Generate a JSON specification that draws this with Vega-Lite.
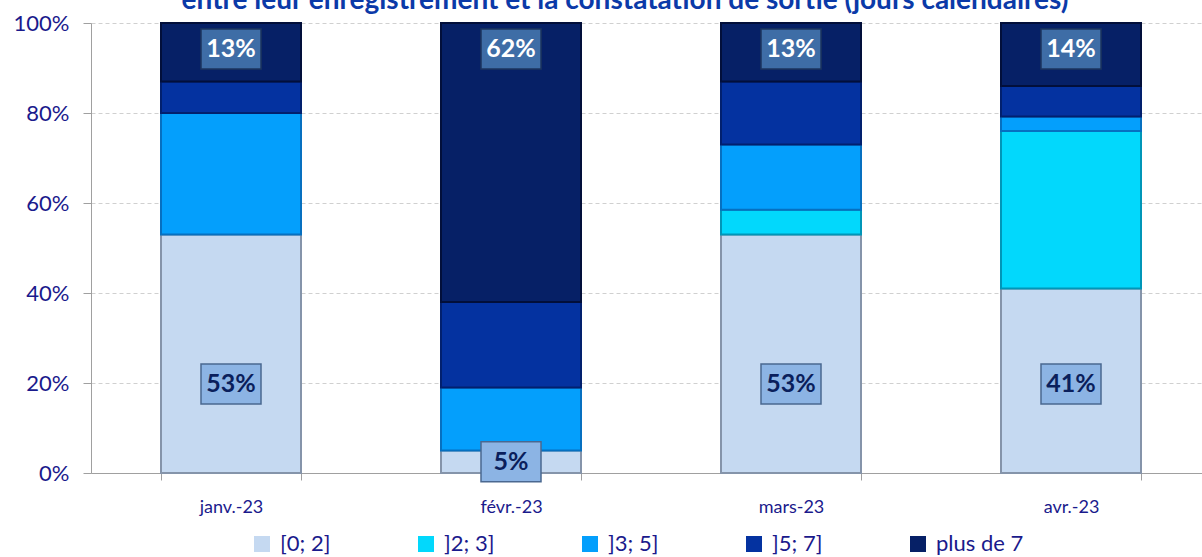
{
  "$schema": "https://vega.github.io/schema/vega-lite/v6.json",
  "autosize": "none",
  "width": 1120,
  "height": 450,
  "padding": {"left": 91, "top": 23, "right": 0, "bottom": 84},
  "background": "white",
  "config": {"view": {"stroke": null}, "font": "Lato"},
  "title": {
    "text": "entre leur enregistrement et la constatation de sortie (jours calendaires)",
    "fontSize": 28, "fontWeight": "bold", "color": "#0b3aa8",
    "anchor": "middle", "dx": -26, "offset": -3
  },
  "data": {"values": [
    {"mois": "janv.-23", "seg": "[0; 2]", "v": 0.53},
    {"mois": "janv.-23", "seg": "]2; 3]", "v": 0.0},
    {"mois": "janv.-23", "seg": "]3; 5]", "v": 0.27},
    {"mois": "janv.-23", "seg": "]5; 7]", "v": 0.07},
    {"mois": "janv.-23", "seg": "plus de 7", "v": 0.13},
    {"mois": "févr.-23", "seg": "[0; 2]", "v": 0.05},
    {"mois": "févr.-23", "seg": "]2; 3]", "v": 0.0},
    {"mois": "févr.-23", "seg": "]3; 5]", "v": 0.14},
    {"mois": "févr.-23", "seg": "]5; 7]", "v": 0.19},
    {"mois": "févr.-23", "seg": "plus de 7", "v": 0.62},
    {"mois": "mars-23", "seg": "[0; 2]", "v": 0.53},
    {"mois": "mars-23", "seg": "]2; 3]", "v": 0.055},
    {"mois": "mars-23", "seg": "]3; 5]", "v": 0.145},
    {"mois": "mars-23", "seg": "]5; 7]", "v": 0.14},
    {"mois": "mars-23", "seg": "plus de 7", "v": 0.13},
    {"mois": "avr.-23", "seg": "[0; 2]", "v": 0.41},
    {"mois": "avr.-23", "seg": "]2; 3]", "v": 0.35},
    {"mois": "avr.-23", "seg": "]3; 5]", "v": 0.032},
    {"mois": "avr.-23", "seg": "]5; 7]", "v": 0.068},
    {"mois": "avr.-23", "seg": "plus de 7", "v": 0.14}
  ]},
  "encoding": {
    "x": {
      "field": "mois", "type": "nominal",
      "sort": ["janv.-23", "févr.-23", "mars-23", "avr.-23"],
      "scale": {"paddingInner": 0.5, "paddingOuter": 0.25},
      "axis": {
        "title": null, "labelAngle": 0, "labelFontSize": 18, "labelColor": "#1a1a8c",
        "labelPadding": 18, "tickBand": "extent", "tickSize": 7, "tickColor": "#a0a0a0",
        "domainColor": "#a0a0a0", "grid": false
      }
    }
  },
  "layer": [
    {
      "transform": [{"filter": "datum.v > 0"}],
      "mark": {"type": "bar", "strokeWidth": 2},
      "encoding": {
        "y": {
          "field": "v", "type": "quantitative", "stack": "zero",
          "scale": {"domain": [0, 1]},
          "axis": {
            "title": null, "format": ".0%", "values": [0, 0.2, 0.4, 0.6, 0.8, 1],
            "labelFontSize": 22, "labelColor": "#1a1a8c", "labelPadding": 14,
            "tickSize": 8, "tickColor": "#a0a0a0", "domainColor": "#a0a0a0",
            "gridColor": "#d0d0d0", "gridDash": [4, 3]
          }
        },
        "order": {"field": "seg", "sort": "ascending"},
        "color": {
          "field": "seg", "type": "nominal",
          "sort": ["[0; 2]", "]2; 3]", "]3; 5]", "]5; 7]", "plus de 7"],
          "scale": {
            "domain": ["[0; 2]", "]2; 3]", "]3; 5]", "]5; 7]", "plus de 7"],
            "range": ["#c5d9f1", "#02d8fc", "#049ffc", "#0432a0", "#062066"]
          },
          "legend": {
            "title": null, "orient": "none", "direction": "horizontal",
            "legendX": 160, "legendY": 510, "columns": 5, "gridAlign": "all",
            "columnPadding": 47, "symbolType": "square", "symbolSize": 256,
            "symbolStrokeWidth": 0, "labelFontSize": 22, "labelColor": "#1a1a8c",
            "symbolOffset": 0, "labelOffset": 7
          }
        },
        "stroke": {
          "field": "seg", "type": "nominal",
          "scale": {
            "domain": ["[0; 2]", "]2; 3]", "]3; 5]", "]5; 7]", "plus de 7"],
            "range": ["#8594aa", "#0096b8", "#0670c0", "#02206e", "#020f3a"]
          },
          "legend": null
        }
      }
    },
    {
      "transform": [
        {"filter": "datum.seg == 'plus de 7'"},
        {"calculate": "0.942", "as": "ly"}
      ],
      "layer": [
        {
          "mark": {"type": "point", "shape": "M-1,-0.667H1V0.667H-1Z", "size": 3600, "filled": true, "fill": "#3e6da6", "stroke": "#1d355e", "strokeWidth": 1.5, "opacity": 1},
          "encoding": {"y": {"field": "ly", "type": "quantitative"}}
        },
        {
          "mark": {"type": "text", "fontSize": 25, "fontWeight": "bold", "color": "white", "baseline": "middle"},
          "encoding": {"y": {"field": "ly", "type": "quantitative"}, "text": {"field": "v", "type": "quantitative", "format": ".0%"}}
        }
      ]
    },
    {
      "transform": [
        {"filter": "datum.seg == '[0; 2]'"},
        {"calculate": "min(0.198, datum.v / 2)", "as": "ly"}
      ],
      "layer": [
        {
          "mark": {"type": "point", "shape": "M-1,-0.667H1V0.667H-1Z", "size": 3600, "filled": true, "fill": "#8cb4e4", "stroke": "#4a6890", "strokeWidth": 1.5, "opacity": 1},
          "encoding": {"y": {"field": "ly", "type": "quantitative"}}
        },
        {
          "mark": {"type": "text", "fontSize": 25, "fontWeight": "bold", "color": "#0a1f5c", "baseline": "middle"},
          "encoding": {"y": {"field": "ly", "type": "quantitative"}, "text": {"field": "v", "type": "quantitative", "format": ".0%"}}
        }
      ]
    }
  ]
}
